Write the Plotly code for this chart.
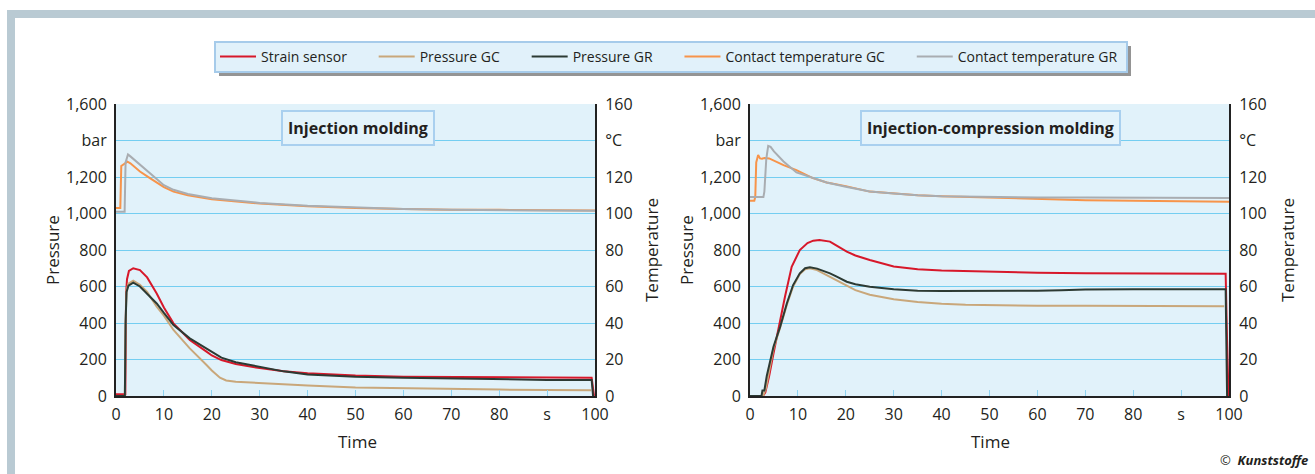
import plotly.graph_objects as go

# ---------------- DATA ----------------
# Left chart: Injection molding
t_im_strain = [0, 1.8, 1.95, 2.1, 2.3, 2.7, 3.6, 5, 6.5, 8.5, 10, 12, 15.4, 18.9, 20, 22, 25, 30, 35, 40, 50, 60, 70, 80, 90, 99.3, 99.8]
im_strain = [10, 10, 10, 560, 640, 685, 700, 690, 650, 562, 485, 398, 307, 243, 222, 197, 175, 153, 135, 124, 112, 106, 105, 102, 101, 100, 0]

t_im_pgc = [0, 1.85, 2.0, 2.2, 2.6, 3.6, 5, 6.5, 8.5, 10, 12, 15.4, 18.9, 20, 21.7, 23, 25, 30, 35, 40, 50, 60, 70, 80, 90, 99.2]
im_pgc = [0, 0, 400, 580, 615, 632, 610, 570, 489, 440, 362, 261, 170, 140, 100, 85, 78, 70, 62, 57, 47, 42, 38, 35, 33, 32]

t_im_pgr = [0, 1.85, 2.0, 2.2, 2.6, 3.6, 5, 6.5, 8.5, 10, 12, 15.4, 18.9, 20, 22, 25, 30, 35, 40, 50, 60, 70, 80, 90, 99.3, 99.6]
im_pgr = [0, 0, 400, 570, 605, 621, 600, 560, 507, 455, 389, 316, 261, 240, 210, 185, 159, 135, 118, 105, 100, 95, 90, 88, 88, 0]

t_im_tgc = [0, 0.9, 1.1, 1.7, 2.4, 3, 4, 5, 7, 10, 12, 15, 20, 25, 30, 40, 50, 60, 70, 80, 90, 100]
im_tgc = [103, 103, 126, 127, 128.4, 127.5, 125, 123, 119.5, 114.5, 112, 110, 107.8, 106.5, 105.5, 104, 103, 102.5, 102, 102, 101.8, 101.7]

t_im_tgr = [0, 1.8, 2.0, 2.5, 3, 4, 5, 7, 10, 12, 15, 20, 25, 30, 40, 50, 60, 70, 80, 90, 100]
im_tgr = [101, 101, 128, 132.4, 131.3, 129, 127, 122, 115.5, 113, 110.7, 108.3, 107, 105.8, 104.2, 103.2, 102.5, 102, 101.8, 101.6, 101.5]

# Right chart: Injection-compression molding
t_icm_strain = [0, 2.7, 3.2, 4, 4.9, 6.3, 7.3, 8.7, 10.4, 12, 13.2, 14.5, 16.7, 18, 20.2, 22, 25, 30, 35, 40, 50, 60, 70, 80, 90, 99.3, 99.6, 99.9]
icm_strain = [0, 0, 20, 110, 233, 416, 544, 708, 800, 838, 851, 855, 846, 825, 791, 770, 745, 710, 695, 688, 680, 675, 672, 671, 670, 670, 300, 0]

t_icm_pgc = [0, 2.7, 3.3, 4.9, 6.3, 7.7, 9.0, 10.4, 11.5, 12.5, 14, 16.7, 18, 20.2, 22, 25, 30, 35, 40, 45, 50, 60, 70, 80, 90, 99]
icm_pgc = [0, 0, 40, 260, 375, 500, 600, 668, 695, 700, 690, 655, 635, 605, 580, 555, 530, 515, 505, 500, 497, 495, 495, 493, 492, 492]

t_icm_pgr = [0, 2.4, 2.6, 3.0, 3.5, 4.9, 6.3, 7.7, 9.0, 10.4, 11.5, 12.5, 14, 16.7, 18, 20.2, 22, 25, 30, 35, 40, 50, 60, 65, 70, 80, 90, 99.3, 99.6]
icm_pgr = [0, 0, 30, 30, 110, 270, 380, 508, 608, 672, 700, 705, 698, 672, 655, 626, 612, 599, 585, 577, 575, 575, 577, 580, 584, 585, 585, 585, 0]

t_icm_tgc = [0, 0.9, 1.1, 1.3, 1.7, 2.1, 2.5, 3, 4, 5, 7, 9.7, 13, 16, 20, 25, 30, 35, 40, 50, 60, 70, 80, 90, 100]
icm_tgc = [107, 107, 109, 128, 132, 130.2, 130, 130.4, 130.2, 129, 126.5, 123.8, 119.5, 117, 115, 112, 110.8, 110, 109.5, 108.8, 107.8, 107.3, 107, 106.8, 106.5]

t_icm_tgr = [0, 2.8, 3.0, 3.4, 3.8, 4.3, 5, 7, 9.7, 13, 16, 20, 25, 30, 35, 40, 50, 60, 70, 80, 90, 100]
icm_tgr = [109, 109, 112, 130, 137, 136.5, 134, 128.5, 122.5, 119.5, 117, 114.7, 112, 111, 110, 109.5, 109, 108.8, 108.7, 108.5, 108.5, 108.5]

series_names = ["Strain sensor", "Pressure GC", "Pressure GR", "Contact temperature GC", "Contact temperature GR"]
series_colors = ["#d7182a", "#c9a77a", "#2c3a33", "#f7944a", "#a9adb1"]

press_ticks = [0, 200, 400, 600, 800, 1000, 1200, 1400, 1600]
press_labels = ["0", "200", "400", "600", "800", "1,000", "1,200", "bar", "1,600"]
temp_ticks = [0, 20, 40, 60, 80, 100, 120, 140, 160]
temp_labels = ["0", "20", "40", "60", "80", "100", "120", "°C", "160"]
time_ticks = [0, 10, 20, 30, 40, 50, 60, 70, 80, 90, 100]
time_labels = ["0", "10", "20", "30", "40", "50", "60", "70", "80", "s", "100"]

chart_titles = ["Injection molding", "Injection-compression molding"]

# ---------------- FIGURE ----------------
W, H = 1315, 474
FONT = "Open Sans"
TXT = "#231f20"
NB = "\u00a0"

def px_x(p):
    return p / W

def px_y(p):
    return 1 - p / H

fig = go.Figure()

left = [(t_im_strain, im_strain, "y"), (t_im_pgc, im_pgc, "y"), (t_im_pgr, im_pgr, "y"),
        (t_im_tgc, im_tgc, "y2"), (t_im_tgr, im_tgr, "y2")]
right = [(t_icm_strain, icm_strain, "y3"), (t_icm_pgc, icm_pgc, "y3"), (t_icm_pgr, icm_pgr, "y3"),
         (t_icm_tgc, icm_tgc, "y4"), (t_icm_tgr, icm_tgr, "y4")]

for i, (tx, vy, ya) in enumerate(left):
    label = series_names[i] + (NB * 6 if i < len(series_names) - 1 else "")
    fig.add_trace(go.Scatter(x=tx, y=vy, xaxis="x", yaxis=ya, mode="lines",
                             name=label, legendgroup=series_names[i],
                             line=dict(color=series_colors[i], width=2), showlegend=True))
for i, (tx, vy, ya) in enumerate(right):
    fig.add_trace(go.Scatter(x=tx, y=vy, xaxis="x2", yaxis=ya, mode="lines",
                             name=series_names[i], legendgroup=series_names[i],
                             line=dict(color=series_colors[i], width=2), showlegend=False))

GRID = "#74cef1"
BG = "#e1f2fa"
tickfont = dict(family=FONT, size=16, color=TXT)

def xaxis_cfg(x0, x1, anchor):
    return dict(domain=[px_x(x0), px_x(x1)], range=[0, 100], anchor=anchor,
                tickvals=time_ticks, ticktext=time_labels, tickfont=tickfont,
                showgrid=False, zeroline=False, showline=True, linecolor="#222", linewidth=2,
                ticks="inside", ticklen=6, tickcolor="#8fd3f2", tickwidth=1, fixedrange=True,
                ticklabelstandoff=3)

def ypress_cfg(anchor):
    return dict(domain=[px_y(396), px_y(104)], range=[0, 1600], anchor=anchor,
                tickvals=press_ticks, ticktext=press_labels, tickfont=tickfont,
                showgrid=True, gridcolor=GRID, gridwidth=1, zeroline=False,
                showline=True, linecolor="#222", linewidth=2, ticks="", ticklabelstandoff=4)

def ytemp_cfg(anchor, over):
    return dict(range=[0, 160], anchor=anchor, overlaying=over, side="right",
                tickvals=temp_ticks, ticktext=temp_labels, tickfont=tickfont,
                showgrid=False, zeroline=False, showline=True, linecolor="#222", linewidth=2,
                ticks="", ticklabelstandoff=5)

fig.update_layout(
    width=W, height=H,
    margin=dict(l=0, r=0, t=0, b=0, autoexpand=False),
    paper_bgcolor="white",
    plot_bgcolor=BG,
    font=dict(family=FONT, color=TXT),
    xaxis=xaxis_cfg(116, 595, "y"),
    yaxis=ypress_cfg("x"),
    yaxis2=ytemp_cfg("x", "y"),
    xaxis2=xaxis_cfg(750, 1229, "y3"),
    yaxis3=ypress_cfg("x2"),
    yaxis4=ytemp_cfg("x2", "y3"),
    showlegend=True,
    legend=dict(orientation="h", x=px_x(669), xanchor="center", y=px_y(57), yanchor="middle",
                bgcolor="rgba(0,0,0,0)", borderwidth=0, itemwidth=36,
                font=dict(family=FONT, size=14, color=TXT)),
)

# Frame
fig.add_shape(type="rect", xref="paper", yref="paper", x0=px_x(7), x1=1.0, y0=px_y(18), y1=px_y(10),
              fillcolor="#b9cad3", line_width=0, layer="below")
fig.add_shape(type="rect", xref="paper", yref="paper", x0=px_x(7), x1=px_x(15), y0=0, y1=px_y(10),
              fillcolor="#b9cad3", line_width=0, layer="below")
# Legend shadow and box
fig.add_shape(type="rect", xref="paper", yref="paper", x0=px_x(219), x1=px_x(1131), y0=px_y(76), y1=px_y(46),
              fillcolor="#707070", line_width=0, layer="below", opacity=0.75)
fig.add_shape(type="rect", xref="paper", yref="paper", x0=px_x(215), x1=px_x(1127), y0=px_y(72), y1=px_y(42),
              fillcolor="#e1f1fa", line=dict(color="#a6cbea", width=2), layer="below")

# Chart title boxes
for cx, title in zip([357.5, 990.5], chart_titles):
    fig.add_annotation(xref="paper", yref="paper", x=px_x(cx), y=px_y(127.5), xanchor="center", yanchor="middle",
                       text="<b>" + title + "</b>", showarrow=False,
                       font=dict(family=FONT, size=16, color=TXT),
                       bgcolor="#e3f3fb", bordercolor="#a9d0ef", borderwidth=2, borderpad=5)

# Axis titles
for x, txt in [(52, "Pressure"), (651, "Temperature"), (686, "Pressure"), (1287, "Temperature")]:
    fig.add_annotation(xref="paper", yref="paper", x=px_x(x), y=px_y(250), xanchor="center", yanchor="middle",
                       text=txt, textangle=-90, showarrow=False,
                       font=dict(family=FONT, size=17, color=TXT))
for x in [357, 990]:
    fig.add_annotation(xref="paper", yref="paper", x=px_x(x), y=px_y(441), xanchor="center", yanchor="middle",
                       text="Time", showarrow=False, font=dict(family=FONT, size=17, color=TXT))

fig.add_annotation(xref="paper", yref="paper", x=px_x(1310), y=px_y(460), xanchor="right", yanchor="middle",
                   text="©  <b><i>Kunststoffe</i></b>", showarrow=False,
                   font=dict(family=FONT, size=13, color=TXT))

post = ("document.body.style.margin='0';document.body.style.padding='0';"
        "var gd=document.getElementById('{plot_id}');"
        "Plotly.relayout(gd,{width:1315,height:474});")

fig.write_html("out.html", post_script=post)
